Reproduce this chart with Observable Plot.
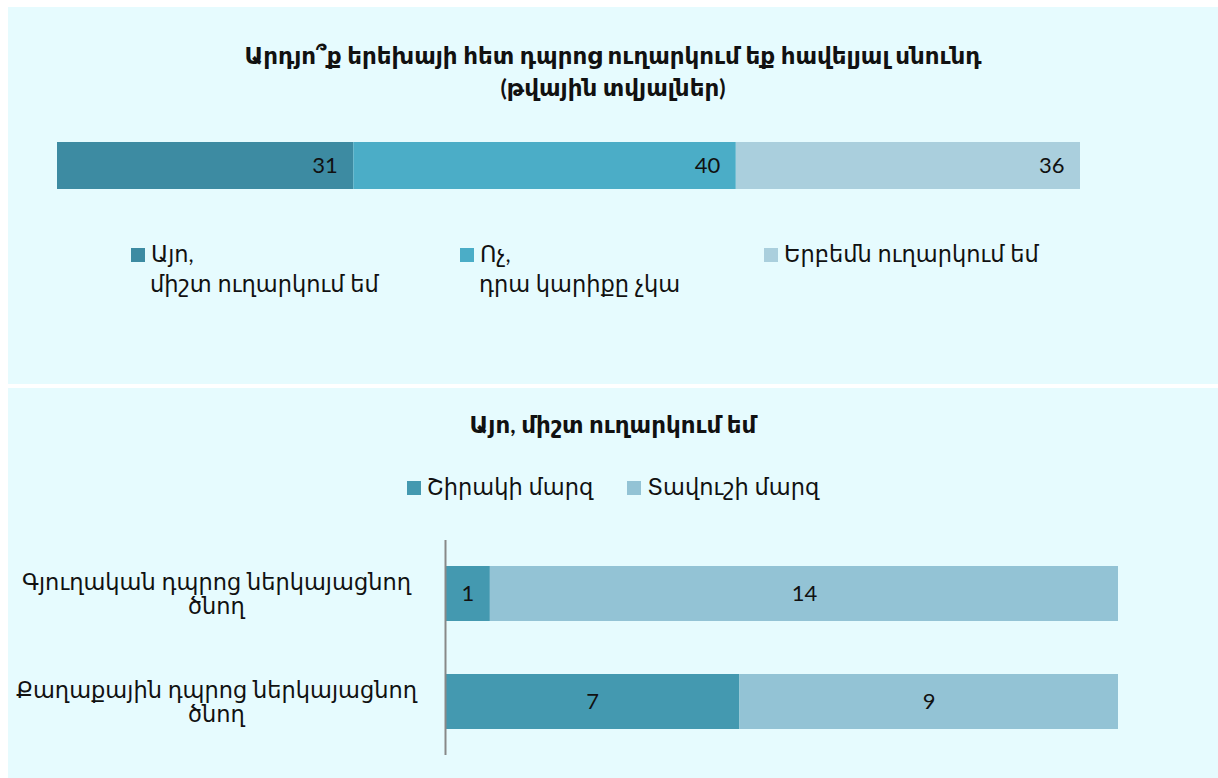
<!DOCTYPE html>
<html>
<head>
<meta charset="utf-8">
<script src="https://cdn.jsdelivr.net/npm/d3@7"></script>
<script src="https://cdn.jsdelivr.net/npm/@observablehq/plot@0.6"></script>
<style>
  html, body { margin: 0; padding: 0; background: #ffffff; }
  body { width: 1218px; height: 778px; position: relative; overflow: hidden;
         font-family: "Lato", "DejaVu Sans", sans-serif; color: #111; }
  .panel { position: absolute; left: 8px; width: 1210px; background: #E6FBFE; }
  #p1 { top: 7px; height: 377px; }
  #p2 { top: 388px; height: 390px; }
  .title { position: absolute; left: 0; right: 0; text-align: center; font-weight: bold;
           font-size: 23px; line-height: 32px; }
  .leg { position: absolute; font-size: 22.5px; line-height: 30px; white-space: nowrap; }
  .sw { display: inline-block; width: 14px; height: 14px; margin-right: 6px; vertical-align: 0px; }
  .abs { position: absolute; }
</style>
</head>
<body>
<div class="panel" id="p1">
  <div class="title" style="top:32px;"><span id="t1a"></span><br><span id="t1b"></span></div>
  <div id="chart1" class="abs" style="left:0; top:135px;"></div>
  <div id="leg1"></div>
</div>
<div class="panel" id="p2">
  <div class="title" style="top:20px;" id="t2"></div>
  <div id="leg2" class="leg" style="left:0; right:0; top:84px; text-align:center;"></div>
  <div id="chart2" class="abs" style="left:0; top:152px;"></div>
</div>
<script>
// ---------- data ----------
const title1 = "Արդյո՞ք երեխայի հետ դպրոց ուղարկում եք հավելյալ սնունդ";
const subtitle1 = "(թվային տվյալներ)";
const answers = ["Այո,\nմիշտ ուղարկում եմ", "Ոչ,\nդրա կարիքը չկա", "Երբեմն ուղարկում եմ"];
const answerValues = [31, 40, 36];
const answerColors = ["#3D8BA2", "#4BADC7", "#AACFDD"];

const title2 = "Այո, միշտ ուղարկում եմ";
const groups = ["Գյուղական դպրոց ներկայացնող\nծնող", "Քաղաքային դպրոց ներկայացնող\nծնող"];
const regions = ["Շիրակի մարզ", "Տավուշի մարզ"];
const shirakValues = [1, 7];
const tavushValues = [14, 9];
const regionColors = ["#4499B0", "#93C3D5"];

// ---------- panel 1 ----------
document.getElementById("t1a").textContent = title1;
document.getElementById("t1b").textContent = subtitle1;

const data1 = answers.map((a, i) => ({answer: a, value: answerValues[i]}));
const total1 = d3.sum(answerValues);

const chart1 = Plot.plot({
  width: 1210, height: 47,
  marginLeft: 49, marginRight: 138, marginTop: 0, marginBottom: 0,
  style: {background: "transparent", fontFamily: "Lato, 'DejaVu Sans', sans-serif"},
  x: {domain: [0, total1], axis: null},
  color: {domain: answers, range: answerColors},
  marks: [
    Plot.barX(data1, Plot.stackX({x: "value", fill: "answer", order: null})),
    Plot.text(data1, Plot.stackX2({x: "value", text: d => String(d.value), order: null,
      textAnchor: "end", dx: -16, fontSize: 22, fill: "#111"}))
  ]
});
document.getElementById("chart1").appendChild(chart1);

const leg1 = document.getElementById("leg1");
const leg1Left = [123, 452, 756];
answers.forEach((a, i) => {
  const div = document.createElement("div");
  div.className = "leg";
  div.style.left = leg1Left[i] + "px";
  div.style.top = "232px";
  const lines = a.split("\n");
  div.innerHTML = `<span class="sw" style="background:${answerColors[i]}"></span>${lines[0]}` +
    (lines[1] ? `<br><span style="padding-left:19px">${lines[1]}</span>` : "");
  leg1.appendChild(div);
});

// ---------- panel 2 ----------
document.getElementById("t2").textContent = title2;
document.getElementById("leg2").innerHTML = regions.map((r, i) =>
  `<span style="margin:0 17px"><span class="sw" style="background:${regionColors[i]}"></span>${r}</span>`).join("");

const data2 = [];
groups.forEach((g, i) => {
  data2.push({group: g, region: regions[0], value: shirakValues[i]});
  data2.push({group: g, region: regions[1], value: tavushValues[i]});
});

const chart2 = Plot.plot({
  width: 1210, height: 215,
  marginLeft: 437, marginRight: 100, marginTop: 0, marginBottom: 0,
  style: {background: "transparent", fontFamily: "Lato, 'DejaVu Sans', sans-serif", fontSize: "20px", color: "#111"},
  x: {axis: null},
  y: {domain: groups, paddingInner: 0.49, paddingOuter: 0.24, label: null},
  color: {domain: regions, range: regionColors},
  marks: [
    Plot.barX(data2, Plot.stackX({x: "value", y: "group", fill: "region", offset: "normalize", order: null})),
    Plot.text(data2, Plot.stackX({x: "value", y: "group", text: d => String(d.value), offset: "normalize", order: null,
      fontSize: 22, fill: "#111"})),
    Plot.axisY({tickSize: 0, textAnchor: "middle", dx: -220, fontSize: 22.5, lineHeight: 1.1, fill: "#111"}),
    Plot.ruleX([0], {stroke: "#888", strokeWidth: 2})
  ]
});
document.getElementById("chart2").appendChild(chart2);
</script>
</body>
</html>
